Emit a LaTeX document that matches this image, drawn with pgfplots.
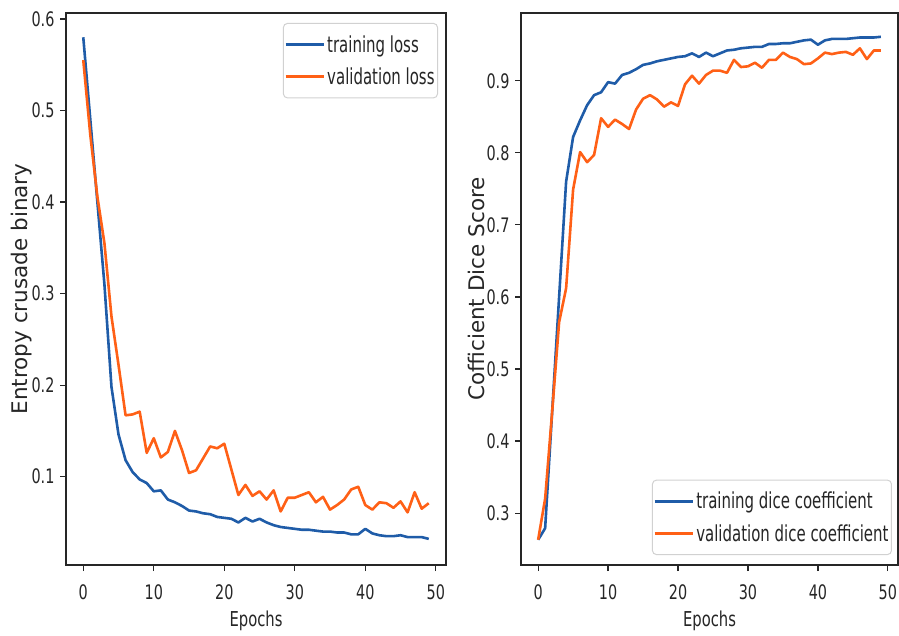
\documentclass[border=0pt]{standalone}
\usepackage{fontspec}
\setmainfont{DejaVu Sans}[FakeStretch=0.72]
\newfontfamily\ylabfont{DejaVu Sans}
\newfontfamily\legfont{DejaVu Sans}[FakeStretch=0.68]
\usepackage{pgfplots}
\pgfplotsset{compat=1.18}

\definecolor{mplblue}{RGB}{31,92,168}
\definecolor{mplorange}{RGB}{255,96,22}

\pgfplotsset{
  curvebox/.style={
    scale only axis, anchor=south west,
    height=552pt,
    xmin=-2.45, xmax=51.45,
    xtick={0,10,20,30,40,50},
    axis line style={black!85, line width=1.6pt},
    tick align=outside, major tick length=6pt,
    tick style={black!85, line width=1.2pt},
    xtick pos=bottom, ytick pos=left,
    tick label style={font=\fontsize{20}{22}\selectfont, text=black!85, /pgf/number format/assume math mode=true},
    xticklabel style={yshift=-10pt},
    yticklabel style={xshift=-2pt, /pgf/number format/fixed, /pgf/number format/precision=1, /pgf/number format/fixed zerofill},
    xlabel={Epochs},
    xlabel style={font=\fontsize{20.5}{22}\selectfont, text=black!85, at={(axis description cs:0.5,-0.102)}, anchor=center},
    ylabel style={font=\ylabfont\fontsize{21.5}{24}\selectfont, text=black!85, at={(axis description cs:-0.116,0.5)}, anchor=center},
    legend cell align=left,
    legend image code/.code={\draw[#1, line width=3pt] (0pt,0pt) -- (32pt,0pt); \path (0pt,0pt) -- (38pt,0pt);},
    legend style={font=\legfont\fontsize{22}{24}\selectfont, text=black!85, draw=black!18, line width=1pt,
      rounded corners=4pt, fill=white, inner xsep=1pt, inner ysep=10pt, row sep=10pt},
    every axis plot/.append style={line width=2.6pt, line join=round},
  }
}

\begin{document}
\begin{tikzpicture}
\useasboundingbox (0pt,0pt) rectangle (899pt,635pt);

% left panel: loss
\begin{axis}[curvebox, at={(66pt,70pt)}, width=380pt,
  ymin=0.0035, ymax=0.6065,
  ytick={0.1,0.2,0.3,0.4,0.5,0.6},
  ylabel={Entropy crusade binary},
  legend style={at={(0.979,0.982)}, anchor=north east},
]
\addplot[mplblue] coordinates {
(0,0.580)(1,0.490)(2,0.400)(3,0.310)(4,0.198)(5,0.146)(6,0.118)(7,0.105)(8,0.097)(9,0.093)
(10,0.084)(11,0.085)(12,0.075)(13,0.072)(14,0.068)(15,0.063)(16,0.062)(17,0.060)(18,0.059)(19,0.056)
(20,0.055)(21,0.054)(22,0.050)(23,0.055)(24,0.051)(25,0.054)(26,0.050)(27,0.047)(28,0.045)(29,0.044)
(30,0.043)(31,0.042)(32,0.042)(33,0.041)(34,0.040)(35,0.040)(36,0.039)(37,0.039)(38,0.037)(39,0.037)
(40,0.043)(41,0.038)(42,0.036)(43,0.035)(44,0.035)(45,0.036)(46,0.034)(47,0.034)(48,0.034)(49,0.032)};
\addlegendentry{training loss}
\addplot[mplorange] coordinates {
(0,0.555)(1,0.473)(2,0.406)(3,0.355)(4,0.275)(5,0.222)(6,0.167)(7,0.168)(8,0.171)(9,0.126)
(10,0.142)(11,0.121)(12,0.127)(13,0.150)(14,0.129)(15,0.104)(16,0.107)(17,0.120)(18,0.133)(19,0.131)
(20,0.136)(21,0.108)(22,0.080)(23,0.091)(24,0.079)(25,0.084)(26,0.075)(27,0.085)(28,0.062)(29,0.077)
(30,0.077)(31,0.080)(32,0.083)(33,0.072)(34,0.078)(35,0.064)(36,0.069)(37,0.075)(38,0.086)(39,0.089)
(40,0.069)(41,0.064)(42,0.072)(43,0.071)(44,0.066)(45,0.073)(46,0.061)(47,0.083)(48,0.065)(49,0.071)};
\addlegendentry{validation loss}
\end{axis}

% right panel: dice
\begin{axis}[curvebox, at={(521pt,70pt)}, width=377pt,
  ymin=0.228, ymax=0.994,
  ytick={0.3,0.4,0.5,0.6,0.7,0.8,0.9},
  ylabel={Cofficient Dice Score},
  ylabel style={at={(axis description cs:-0.117,0.5)}},
  legend style={at={(0.984,0.018)}, anchor=south east},
]
\addplot[mplblue] coordinates {
(0,0.263)(1,0.279)(2,0.440)(3,0.600)(4,0.760)(5,0.822)(6,0.845)(7,0.866)(8,0.880)(9,0.884)
(10,0.898)(11,0.896)(12,0.908)(13,0.911)(14,0.916)(15,0.922)(16,0.924)(17,0.927)(18,0.929)(19,0.931)
(20,0.933)(21,0.934)(22,0.938)(23,0.933)(24,0.939)(25,0.934)(26,0.938)(27,0.942)(28,0.943)(29,0.945)
(30,0.946)(31,0.947)(32,0.947)(33,0.951)(34,0.951)(35,0.952)(36,0.952)(37,0.954)(38,0.956)(39,0.957)
(40,0.950)(41,0.956)(42,0.958)(43,0.958)(44,0.958)(45,0.959)(46,0.960)(47,0.960)(48,0.960)(49,0.961)};
\addlegendentry{training dice coefficient}
\addplot[mplorange] coordinates {
(0,0.263)(1,0.320)(2,0.440)(3,0.565)(4,0.612)(5,0.749)(6,0.801)(7,0.787)(8,0.797)(9,0.848)
(10,0.836)(11,0.846)(12,0.840)(13,0.833)(14,0.860)(15,0.875)(16,0.880)(17,0.874)(18,0.864)(19,0.870)
(20,0.865)(21,0.895)(22,0.907)(23,0.896)(24,0.908)(25,0.914)(26,0.914)(27,0.911)(28,0.929)(29,0.919)
(30,0.920)(31,0.925)(32,0.918)(33,0.929)(34,0.929)(35,0.939)(36,0.933)(37,0.930)(38,0.923)(39,0.924)
(40,0.931)(41,0.939)(42,0.937)(43,0.939)(44,0.940)(45,0.936)(46,0.945)(47,0.930)(48,0.942)(49,0.942)};
\addlegendentry{validation dice coefficient}
\end{axis}
\end{tikzpicture}
\end{document}
